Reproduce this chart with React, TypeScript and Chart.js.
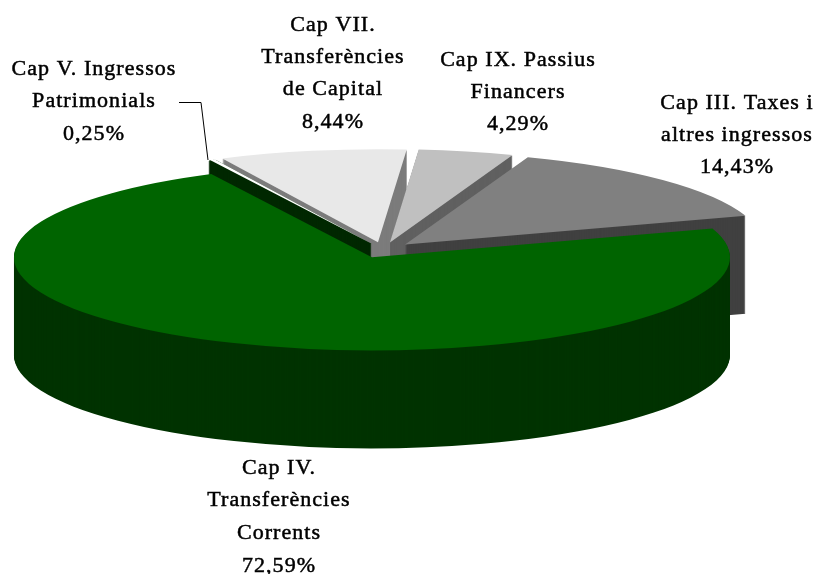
import React, { useEffect, useRef } from "react";
import { Chart, registerables } from "chart.js";

Chart.register(...registerables);

const categories = [
  "Cap IV. Transferències Corrents",
  "Cap V. Ingressos Patrimonials",
  "Cap VII. Transferències de Capital",
  "Cap IX. Passius Financers",
  "Cap III. Taxes i altres ingressos",
];
const values = [72.59, 0.25, 8.44, 4.29, 14.43];
const topColors = ["#006400", "#FFFFFF", "#E8E8E8", "#C0C0C0", "#808080"];
const sideColors = ["#003300", "#002800", "#7C7C7C", "#606060", "#404040"];
const wallStroke = [0, 3, 0, 0, 0];
const labelLines = [
  ["Cap IV.", "Transferències", "Corrents", "72,59%"],
  ["Cap V. Ingressos", "Patrimonials", "0,25%"],
  ["Cap VII.", "Transferències", "de Capital", "8,44%"],
  ["Cap IX. Passius", "Financers", "4,29%"],
  ["Cap III. Taxes i", "altres ingressos", "14,43%"],
];

// layout
const labelCentreX = [279, 94, 333, 518, 737];
const labelFirstY = [468, 69, 25, 60, 103];
const lineStep = [32.6, 32.5, 32.3, 32, 32];
const paintOrder = [2, 1, 3, 4, 0];
const centre = { x: 383.5, y: 250 };
const tilt = 0.26;
const depth = 98;
const explode = 30;

const tiltedPie = {
  id: "tiltedPie",
  beforeDatasetsDraw(chart: any) {
    const ctx = chart.ctx;
    const area = chart.chartArea;
    const cx = (area.left + area.right) / 2;
    const cy = (area.top + area.bottom) / 2;
    const arcs = chart.getDatasetMeta(0).data;
    const drawArc = (arc: any, color: string, dy: number, stroke: number) => {
      const saved = arc.options;
      const mid = (arc.startAngle + arc.endAngle) / 2;
      arc.options = { ...saved, backgroundColor: color, borderColor: color, borderWidth: stroke };
      ctx.save();
      ctx.translate(centre.x, centre.y + dy);
      ctx.scale(1, tilt);
      ctx.translate(Math.cos(mid) * explode - cx, Math.sin(mid) * explode - cy);
      arc.draw(ctx);
      ctx.restore();
      arc.options = saved;
    };
    paintOrder.forEach((i) => {
      for (let dy = depth; dy >= 1; dy--) drawArc(arcs[i], sideColors[i], dy, wallStroke[i]);
      drawArc(arcs[i], topColors[i], 0, 0);
    });
    return false;
  },
  afterDraw(chart: any) {
    const ctx = chart.ctx;
    ctx.save();
    ctx.strokeStyle = "#000";
    ctx.lineWidth = 1;
    ctx.beginPath();
    ctx.moveTo(179, 102.5);
    ctx.lineTo(201, 102.5);
    ctx.lineTo(208, 160);
    ctx.stroke();
    ctx.fillStyle = "#000";
    ctx.strokeStyle = "#000";
    ctx.lineWidth = 0.5;
    ctx.textAlign = "center";
    ctx.textBaseline = "middle";
    ctx.font = "22px 'Liberation Serif'";
    ctx.letterSpacing = "1.05px";
    labelLines.forEach((lines, i) => {
      lines.forEach((t, j) => {
        const y = labelFirstY[i] + j * lineStep[i];
        ctx.fillText(t, labelCentreX[i], y);
        ctx.strokeText(t, labelCentreX[i], y);
      });
    });
    ctx.restore();
  },
};

export default function App() {
  const ref = useRef<HTMLCanvasElement>(null);
  useEffect(() => {
    const chart = new Chart(ref.current as HTMLCanvasElement, {
      type: "pie",
      data: {
        labels: categories,
        datasets: [
          {
            data: values,
            backgroundColor: topColors,
            borderWidth: 0,
            radius: 358,
          } as any,
        ],
      },
      options: {
        animation: false,
        responsive: false,
        rotation: 72,
        events: [],
        plugins: { legend: { display: false }, tooltip: { enabled: false } },
      },
      plugins: [tiltedPie],
    } as any);
    return () => chart.destroy();
  }, []);
  return (
    <div style={{ position: "absolute", left: 0, top: 0, width: 819, height: 574, background: "#fff" }}>
      <canvas ref={ref} width={819} height={574} style={{ display: "block" }} />
    </div>
  );
}
